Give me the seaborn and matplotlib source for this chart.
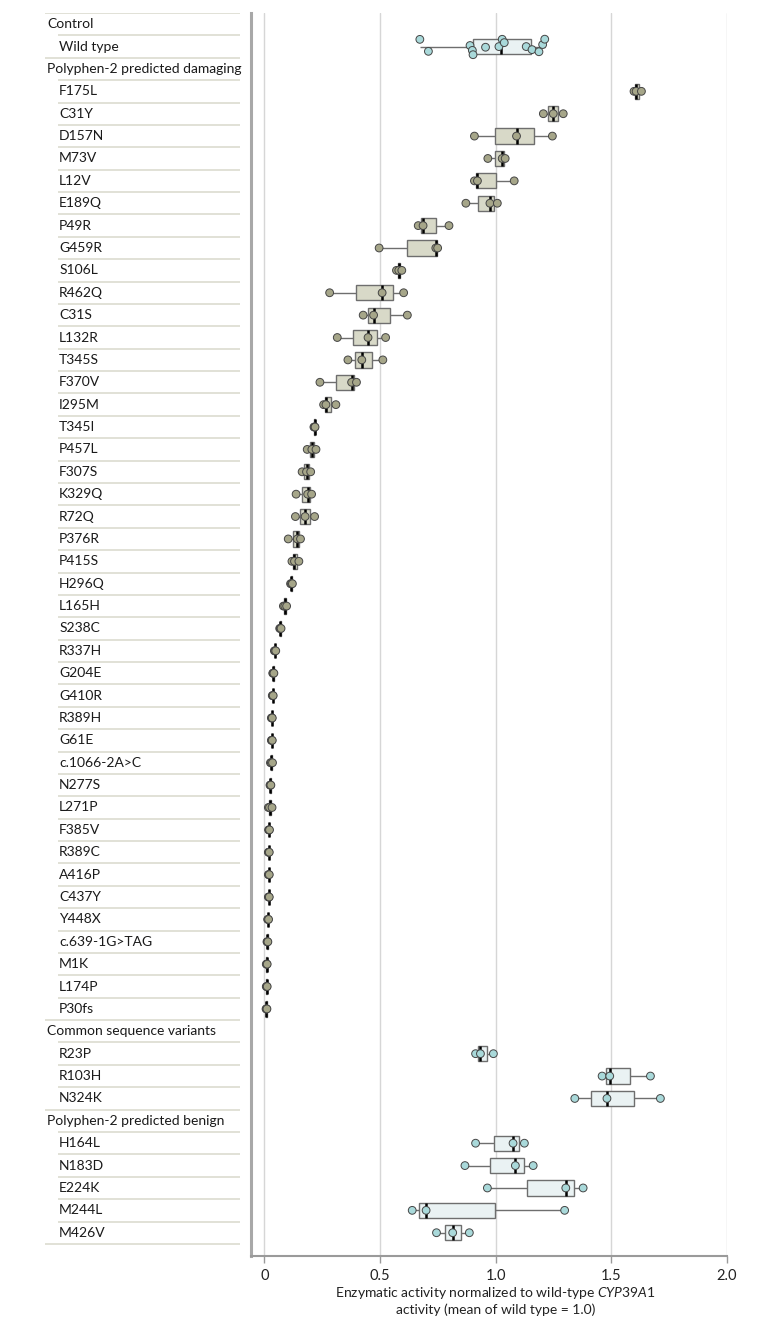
import numpy as np
import pandas as pd
import matplotlib
matplotlib.use("Agg")
import matplotlib.pyplot as plt
import seaborn as sns

# ---------------- data ----------------
headers = ["Control", "Polyphen-2 predicted damaging",
           "Common sequence variants", "Polyphen-2 predicted benign"]

control_variants = ["Wild type"]
control_values = [[0.672, 0.709, 0.889, 0.899, 0.902, 0.956, 1.014, 1.028,
                   1.037, 1.132, 1.157, 1.187, 1.203, 1.212]]

damaging_variants = ["F175L", "C31Y", "D157N", "M73V", "L12V", "E189Q", "P49R",
                     "G459R", "S106L", "R462Q", "C31S", "L132R", "T345S", "F370V",
                     "I295M", "T345I", "P457L", "F307S", "K329Q", "R72Q", "P376R",
                     "P415S", "H296Q", "L165H", "S238C", "R337H", "G204E", "G410R",
                     "R389H", "G61E", "c.1066-2A>C", "N277S", "L271P", "F385V",
                     "R389C", "A416P", "C437Y", "Y448X", "c.639-1G>TAG", "M1K",
                     "L174P", "P30fs"]
damaging_values = [
    [1.598, 1.607, 1.630], [1.206, 1.249, 1.292], [0.908, 1.090, 1.245],
    [0.966, 1.028, 1.041], [0.908, 0.921, 1.080], [0.871, 0.975, 1.007],
    [0.665, 0.686, 0.798], [0.496, 0.741, 0.749], [0.571, 0.581, 0.594],
    [0.282, 0.509, 0.602], [0.427, 0.472, 0.618], [0.315, 0.448, 0.524],
    [0.361, 0.421, 0.512], [0.240, 0.377, 0.398], [0.256, 0.266, 0.309],
    [0.214, 0.217, 0.219], [0.185, 0.205, 0.223], [0.163, 0.182, 0.200],
    [0.137, 0.187, 0.204], [0.134, 0.176, 0.217], [0.103, 0.142, 0.156],
    [0.119, 0.130, 0.149], [0.113, 0.117, 0.121], [0.082, 0.088, 0.096],
    [0.066, 0.069, 0.072], [0.043, 0.046, 0.049], [0.036, 0.038, 0.041],
    [0.034, 0.036, 0.038], [0.030, 0.032, 0.034], [0.030, 0.032, 0.034],
    [0.026, 0.030, 0.035], [0.024, 0.026, 0.028], [0.017, 0.022, 0.033],
    [0.018, 0.020, 0.022], [0.017, 0.019, 0.021], [0.017, 0.019, 0.021],
    [0.017, 0.019, 0.021], [0.014, 0.016, 0.018], [0.011, 0.013, 0.015],
    [0.008, 0.010, 0.012], [0.008, 0.010, 0.012], [0.007, 0.009, 0.011]]

common_variants = ["R23P", "R103H", "N324K"]
common_values = [[0.913, 0.934, 0.990], [1.460, 1.493, 1.669],
                 [1.342, 1.481, 1.712]]

benign_variants = ["H164L", "N183D", "E224K", "M244L", "M426V"]
benign_values = [[0.913, 1.075, 1.124], [0.867, 1.085, 1.162],
                 [0.964, 1.303, 1.378], [0.639, 0.699, 1.298],
                 [0.744, 0.814, 0.886]]

x_ticks = [0, 0.5, 1.0, 1.5, 2.0]
x_tick_labels = ["0", "0.5", "1.0", "1.5", "2.0"]

# ---------------- build long table ----------------
sections = [(headers[0], control_variants, control_values, "ref"),
            (headers[1], damaging_variants, damaging_values, "dmg"),
            (headers[2], common_variants, common_values, "ref"),
            (headers[3], benign_variants, benign_values, "ref")]

order, is_header, records = [], [], []
for head, names, vals, kind in sections:
    order.append(head)
    is_header.append(True)
    for n, v in zip(names, vals):
        order.append(n)
        is_header.append(False)
        for x in v:
            records.append({"variant": n, "value": x, "kind": kind})
df = pd.DataFrame(records)

# ---------------- style ----------------
sns.set_style("white")
FONT = "Lato"
plt.rcParams["font.family"] = [FONT, "DejaVu Sans"]
plt.rcParams["mathtext.fontset"] = "custom"
plt.rcParams["mathtext.rm"] = FONT
plt.rcParams["mathtext.it"] = FONT + ":italic"

box_pal = {"ref": "#e8f3f5", "dmg": "#dadcc5"}
pt_pal = {"ref": "#a9d9da", "dmg": "#a6a689"}

W, H = 780, 1326
fig = plt.figure(figsize=(W / 100, H / 100), dpi=100)
ax_left, ax_right, ax_top, ax_bot = 251, 727, 13, 1256
ax = fig.add_axes([ax_left / W, (H - ax_bot) / H,
                   (ax_right - ax_left) / W, (ax_bot - ax_top) / H])

sns.boxplot(data=df, x="value", y="variant", order=order, hue="kind",
            hue_order=["ref", "dmg"], palette=box_pal, dodge=False,
            width=0.68, whis=(0, 100), showfliers=False, showcaps=False,
            linewidth=1.0, linecolor="#6e6e6e",
            medianprops=dict(color="black", linewidth=1.8),
            legend=False, ax=ax)

sns.stripplot(data=df[df["variant"] != "Wild type"], x="value", y="variant",
              order=order, hue="kind", hue_order=["ref", "dmg"], palette=pt_pal,
              jitter=False, dodge=False, size=5.6, linewidth=0.7,
              edgecolor="#454545", legend=False, ax=ax, zorder=4)
np.random.seed(7)
sns.stripplot(data=df[df["variant"] == "Wild type"], x="value", y="variant",
              order=order, hue="kind", hue_order=["ref", "dmg"], palette=pt_pal,
              jitter=0.38, dodge=False, size=5.6, linewidth=0.7,
              edgecolor="#454545", legend=False, ax=ax, zorder=4)

n = len(order)
ylim = (n - 1 + 1.04, -0.5)
xlim = (-0.058, 2.0)
ax.set_ylim(*ylim)
ax.set_xlim(*xlim)
ax.set_yticks([])
ax.set_ylabel("")
ax.set_xticks(x_ticks)
ax.set_xticklabels(x_tick_labels, fontsize=10.5, color="#222222")
ax.tick_params(axis="x", length=5, width=1, color="#9a9a9a", pad=4,
               bottom=True)
ax.set_axisbelow(True)
ax.xaxis.grid(True, color="#d6d6d6", linewidth=1)
ax.yaxis.grid(False)
for s in ["top", "right"]:
    ax.spines[s].set_visible(False)
ax.spines["left"].set_color("#a8a8a8")
ax.spines["left"].set_linewidth(2.2)
ax.spines["bottom"].set_color("#9a9a9a")
ax.spines["bottom"].set_linewidth(1.5)
ax.set_xlabel("Enzymatic activity normalized to wild-type $\\mathit{CYP39A1}$\n"
              "activity (mean of wild type = 1.0)", fontsize=10,
              color="#222222", linespacing=1.3)
ax.xaxis.set_label_coords((1.0 - xlim[0]) / (xlim[1] - xlim[0]), -0.023)

# ---------------- label panel ----------------
lab_l, lab_r = 45, 240
lax = fig.add_axes([lab_l / W, (H - ax_bot) / H,
                    (lab_r - lab_l) / W, (ax_bot - ax_top) / H])
lax.set_xlim(0, 1)
lax.set_ylim(*ylim)
lax.axis("off")
indent = (58 - lab_l) / (lab_r - lab_l)
line_col = "#dcdcd0"
lax.hlines(-0.5, 0, 1, color=line_col, linewidth=1.2)
for i, (name, hd) in enumerate(zip(order, is_header)):
    lax.text(0.012 if hd else indent + 0.006, i, name, va="center", ha="left",
             fontsize=10, color="#1a1a1a")
    nxt_header = (i + 1 < n and is_header[i + 1]) or i == n - 1
    start = 0 if nxt_header else indent
    lax.hlines(i + 0.5, start, 1, color=line_col, linewidth=1.2)

fig.savefig("out.png", dpi=100)
